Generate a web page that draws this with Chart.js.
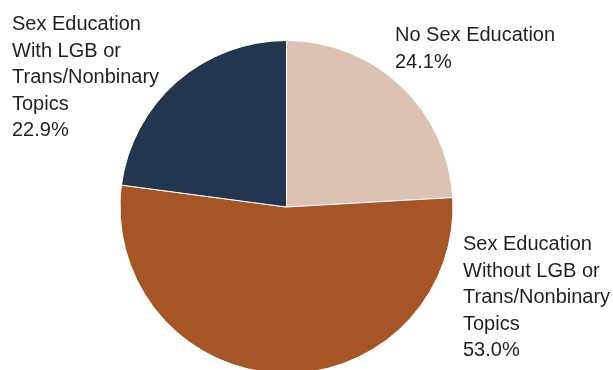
<!DOCTYPE html>
<html>
<head>
<meta charset="utf-8">
<script src="https://cdn.jsdelivr.net/npm/chart.js@4.4.1/dist/chart.umd.min.js"></script>
<style>
  html, body { margin: 0; padding: 0; background: #fff; overflow: hidden; }
  #wrap { position: relative; width: 613px; height: 380px; }
</style>
</head>
<body>
<div id="wrap"><canvas id="chart-pie"></canvas></div>
<script>
  /* ── Data ─────────────────────────────────────────────── */
  const categories = [
    'No Sex Education',
    'Sex Education Without LGB or Trans/Nonbinary Topics',
    'Sex Education With LGB or Trans/Nonbinary Topics'
  ];
  const shares = [24.1, 53.0, 22.9];
  const sliceColors = ['#DBC2B2', '#A65626', '#22374F'];

  // label text split into lines, one entry per category
  const labelLines = [
    ['No Sex Education'],
    ['Sex Education', 'Without LGB or', 'Trans/Nonbinary', 'Topics'],
    ['Sex Education', 'With LGB or', 'Trans/Nonbinary', 'Topics']
  ];
  // where each label block starts (left x, first baseline y)
  const labelAnchors = [[395, 41], [463, 250], [12, 30]];

  /* ── Outside labels ───────────────────────────────────── */
  const outsideLabels = {
    id: 'outsideLabels',
    afterDraw(chart) {
      const ctx = chart.ctx;
      ctx.save();
      ctx.font = '20px "Liberation Sans", Arial, sans-serif';
      ctx.fillStyle = '#231f20';
      ctx.textAlign = 'left';
      ctx.textBaseline = 'alphabetic';
      shares.forEach((v, i) => {
        const lines = labelLines[i].concat([v.toFixed(1) + '%']);
        const [x, y] = labelAnchors[i];
        lines.forEach((t, k) => ctx.fillText(t, x, y + k * 26.5));
      });
      ctx.restore();
    }
  };

  new Chart(document.getElementById('chart-pie'), {
    type: 'pie',
    data: {
      labels: categories,
      datasets: [{
        data: shares,
        backgroundColor: sliceColors,
        borderColor: '#ffffff',
        borderWidth: 1
      }]
    },
    options: {
      responsive: true,
      maintainAspectRatio: false,
      animation: false,
      layout: { padding: { left: 119, right: 159, top: 40, bottom: 6 } },
      plugins: {
        legend: { display: false },
        tooltip: { enabled: false }
      }
    },
    plugins: [outsideLabels]
  });
</script>
</body>
</html>
